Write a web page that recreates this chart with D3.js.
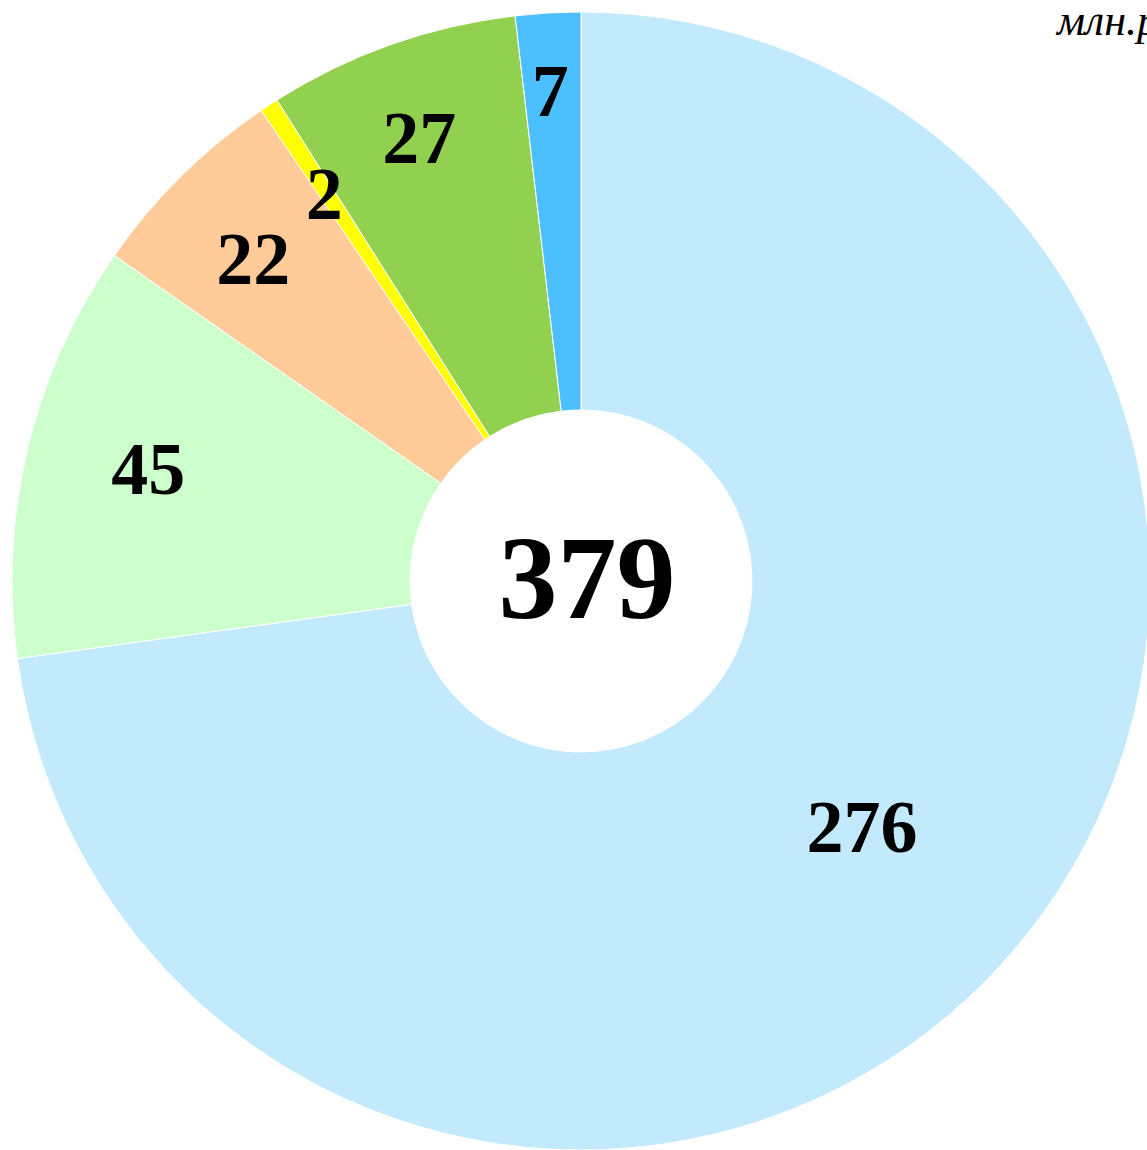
<!DOCTYPE html>
<html><head><meta charset="utf-8">
<script src="https://cdn.jsdelivr.net/npm/d3@7/dist/d3.min.js"></script>
<style>html,body{margin:0;padding:0;background:#fff;overflow:hidden}</style>
</head><body>
<svg id="chart" width="1147" height="1150"></svg>
<script>
const categories = ["a", "b", "c", "d", "e", "f"];
const values = [276, 45, 22, 2, 27, 7];
const labels = ["276", "45", "22", "2", "27", "7"];
const colors = ["#C2E9FC", "#CCFFCC", "#FFCC99", "#FFFF00", "#92D050", "#4BBFFF"];
const totalLabel = "379";
const unitLabel = "млн.руб.";
// label placement: fraction of outer radius, fraction across the slice's angle
const labelRadius = [0.655, 0.786, 0.809, 0.818, 0.83, 0.865];
const labelShift = [0.5, 0.525, 0.464, 0.37, 0.478, 0.46];

const svg = d3.select("#chart");
const cx = 581, cy = 581, R = 569, r0 = 171;
const g = svg.append("g").attr("transform", `translate(${cx},${cy})`);

const pie = d3.pie().sort(null).value(d => d.v);
const data = pie(values.map((v, i) => ({v, i})));
const arc = d3.arc().innerRadius(r0).outerRadius(R);

g.selectAll("path").data(data).join("path")
  .attr("d", arc)
  .attr("fill", d => colors[d.data.i])
  .attr("stroke", "#fff").attr("stroke-width", 1);

const ang = d => d.startAngle + (d.endAngle - d.startAngle) * labelShift[d.data.i];
g.selectAll("text.lbl").data(data).join("text")
  .attr("class", "lbl")
  .attr("x", d => Math.sin(ang(d)) * R * labelRadius[d.data.i])
  .attr("y", d => -Math.cos(ang(d)) * R * labelRadius[d.data.i])
  .attr("dy", "0.35em")
  .attr("text-anchor", "middle")
  .attr("font-family", "'Liberation Serif','Times New Roman',serif")
  .attr("font-weight", "bold")
  .attr("font-size", 74)
  .attr("fill", "#000")
  .text(d => labels[d.data.i]);

g.append("text")
  .attr("x", 6).attr("y", 37)
  .attr("text-anchor", "middle")
  .attr("font-family", "'Liberation Serif','Times New Roman',serif")
  .attr("font-weight", "bold")
  .attr("font-size", 118)
  .text(totalLabel);

svg.append("text")
  .attr("x", 1057).attr("y", 35)
  .attr("font-family", "'Liberation Serif','Times New Roman',serif")
  .attr("font-style", "italic")
  .attr("font-size", 44)
  .text(unitLabel);
</script>
</body></html>
